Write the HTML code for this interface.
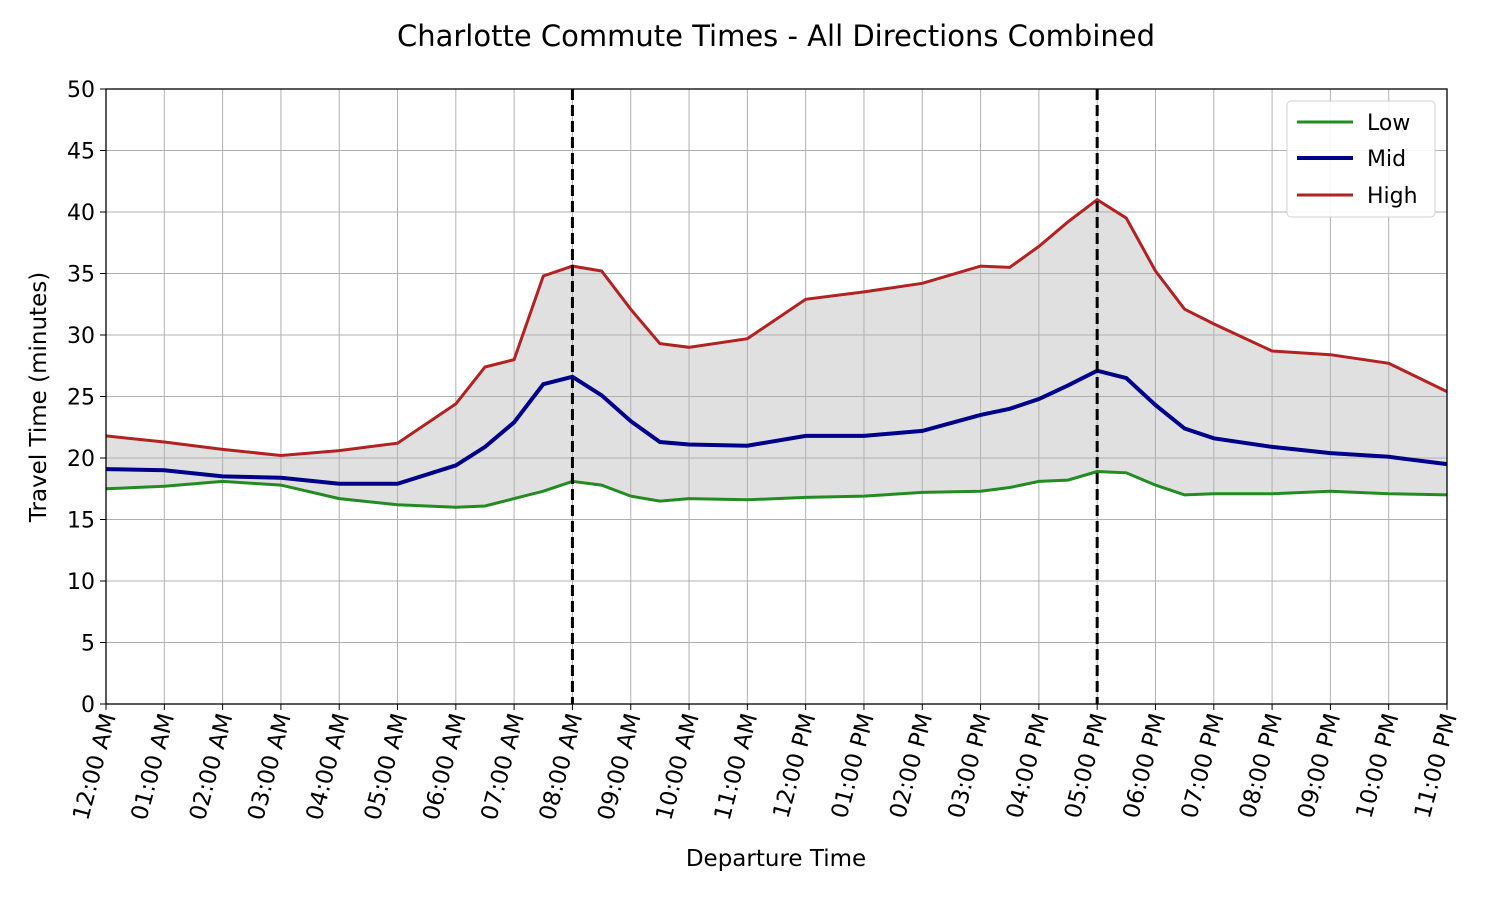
<!DOCTYPE html>
<html><head><meta charset="utf-8"><style>
body{margin:0;background:#fff}
svg text{font-family:"DejaVu Sans","Liberation Sans",sans-serif;fill:#000}
</style></head><body>
<svg id="s" width="1500" height="900" xmlns="http://www.w3.org/2000/svg">
<rect width="1500" height="900" fill="#fff"/>
<text x="776" y="46" font-size="29" text-anchor="middle">Charlotte Commute Times - All Directions Combined</text>
<g id="g"></g>
<text x="776" y="866" font-size="23" text-anchor="middle">Departure Time</text>
<text transform="translate(46,397) rotate(-90)" font-size="23" text-anchor="middle">Travel Time (minutes)</text>
</svg>
<script>
const X0=106,X1=1447,Y0=704,Y1=89;
const xs=h=>X0+(X1-X0)*h/23, ys=v=>Y0-(Y0-Y1)*v/50;
const H=[0,1,2,3,4,5,6,6.5,7,7.5,8,8.5,9,9.5,10,11,12,13,14,15,15.5,16,16.5,17,17.5,18,18.5,19,20,21,22,23];
const hi=[21.8,21.3,20.7,20.2,20.6,21.2,24.4,27.4,28.0,34.8,35.6,35.2,32.1,29.3,29.0,29.7,32.9,33.5,34.2,35.6,35.5,37.2,39.2,41.0,39.5,35.2,32.1,30.9,28.7,28.4,27.7,25.4];
const mi=[19.1,19.0,18.5,18.4,17.9,17.9,19.4,20.9,22.9,26.0,26.6,25.1,23.0,21.3,21.1,21.0,21.8,21.8,22.2,23.5,24.0,24.8,25.9,27.1,26.5,24.3,22.4,21.6,20.9,20.4,20.1,19.5];
const lo=[17.5,17.7,18.1,17.8,16.7,16.2,16.0,16.1,16.7,17.3,18.1,17.8,16.9,16.5,16.7,16.6,16.8,16.9,17.2,17.3,17.6,18.1,18.2,18.9,18.8,17.8,17.0,17.1,17.1,17.3,17.1,17.0];
let s='';
const pts=a=>H.map((h,i)=>xs(h).toFixed(1)+','+ys(a[i]).toFixed(1));
s+=`<polygon points="${pts(hi).join(' ')} ${pts(lo).reverse().join(' ')}" fill="#e0e0e0"/>`;
for(let h=0;h<=23;h++){s+=`<line x1="${xs(h)}" y1="${Y1}" x2="${xs(h)}" y2="${Y0}" stroke="#b0b0b0" stroke-width="1"/>`;}
for(let v=0;v<=50;v+=5){const y=ys(v);s+=`<line x1="${X0}" y1="${y}" x2="${X1}" y2="${y}" stroke="#b0b0b0" stroke-width="1"/><line x1="${X0-6}" y1="${y}" x2="${X0}" y2="${y}" stroke="#000"/><text x="${X0-11}" y="${y+8}" font-size="22" text-anchor="end">${v}</text>`;}
s+=`<polyline points="${pts(lo).join(' ')}" fill="none" stroke="#228b22" stroke-width="3"/>`;
s+=`<polyline points="${pts(mi).join(' ')}" fill="none" stroke="#00008b" stroke-width="4"/>`;
s+=`<polyline points="${pts(hi).join(' ')}" fill="none" stroke="#b22222" stroke-width="3"/>`;
[8,17].forEach(h=>{s+=`<line x1="${xs(h)}" y1="${Y1}" x2="${xs(h)}" y2="${Y0}" stroke="#000" stroke-width="3" stroke-dasharray="11,5"/>`;});
s+=`<rect x="${X0}" y="${Y1}" width="${X1-X0}" height="${Y0-Y1}" fill="none" stroke="#000" stroke-width="1.3"/>`;
for(let h=0;h<=23;h++){const x=xs(h);const hr=h%12==0?12:h%12;const lab=String(hr).padStart(2,'0')+':00 '+(h<12?'AM':'PM');
s+=`<line x1="${x}" y1="${Y0}" x2="${x}" y2="${Y0+6}" stroke="#000"/><text transform="translate(${x+10},${Y0+12}) rotate(-75)" font-size="23" text-anchor="end">${lab}</text>`;}
s+=`<rect x="1287" y="101" width="148" height="116" rx="4" fill="#fff" stroke="#ccc" opacity="0.9"/>`;
[["Low","#228b22",3,122],["Mid","#00008b",4,158],["High","#b22222",3,195]].forEach(([t,c,w,y])=>{s+=`<line x1="1297" y1="${y}" x2="1353" y2="${y}" stroke="${c}" stroke-width="${w}"/><text x="1367" y="${y+8}" font-size="22">${t}</text>`;});
document.getElementById('g').innerHTML=s;
</script>
</body></html>
